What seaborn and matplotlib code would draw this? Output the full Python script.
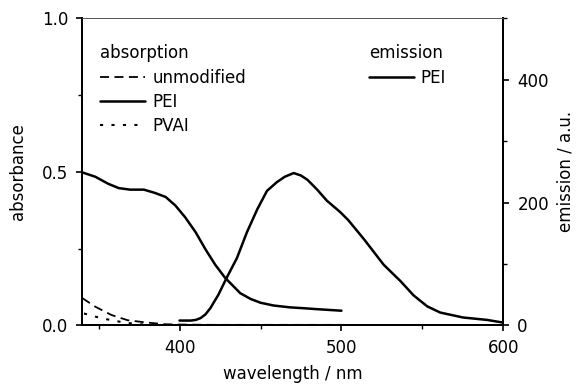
import matplotlib
matplotlib.use("Agg")
import matplotlib.pyplot as plt
from matplotlib.lines import Line2D
from matplotlib.ticker import MultipleLocator
import pandas as pd
import seaborn as sns

# absorption spectra (left axis, absorbance)
pei_abs_wl = [340, 348, 356, 362.5, 369.5, 378, 385, 391.5, 397.5, 403.5, 410, 416, 422, 428,
              437.5, 444, 450, 458, 468, 477, 485, 500]
pei_abs = [0.498, 0.484, 0.461, 0.447, 0.442, 0.442, 0.431, 0.418, 0.39, 0.352, 0.303, 0.248,
           0.198, 0.156, 0.105, 0.086, 0.074, 0.065, 0.059, 0.056, 0.053, 0.048]

unmod_wl = [340, 348, 358, 368, 379, 391, 400, 420, 450, 500]
unmod_abs = [0.089, 0.061, 0.034, 0.017, 0.010, 0.004, 0.003, 0.002, 0.002, 0.002]

pvai_wl = [341, 350, 358, 366.5, 374.5, 385, 400, 430, 500]
pvai_abs = [0.039, 0.026, 0.017, 0.009, 0.004, 0.002, 0.001, 0.001, 0.001]

# emission spectrum (right axis, a.u.)
pei_em_wl = [400, 404, 407, 410, 413, 416, 419, 424, 429, 435.5, 441.5, 448, 454, 460, 465,
             470.5, 475, 479, 485, 491, 499, 504, 514, 526, 536.5, 544.5, 553, 561,
             575, 590, 599]
pei_em = [8, 8, 8, 9, 12, 18, 28, 50, 77, 110, 151, 189, 219, 233, 242,
          248, 244, 237, 221, 203, 185, 172, 140, 99, 72, 49, 31, 21,
          13, 9, 5]

sns.set_style("ticks")
plt.rcParams["font.family"] = ["DejaVu Sans"]
plt.rcParams["font.size"] = 12
plt.rcParams["text.color"] = "black"
plt.rcParams["axes.labelcolor"] = "black"

fig = plt.figure(figsize=(5.82, 3.87), dpi=100)
ax = fig.add_axes([0.1415, 0.159, 0.7235, 0.794])
ax2 = ax.twinx()

sns.lineplot(data=pd.DataFrame({"wl": pei_abs_wl, "v": pei_abs}), x="wl", y="v",
             ax=ax, color="black", lw=1.8, linestyle="-")
sns.lineplot(data=pd.DataFrame({"wl": unmod_wl, "v": unmod_abs}), x="wl", y="v",
             ax=ax, color="black", lw=1.3, linestyle=(0, (5, 3)))
sns.lineplot(data=pd.DataFrame({"wl": pvai_wl, "v": pvai_abs}), x="wl", y="v",
             ax=ax, color="black", lw=1.5, linestyle=(0, (1.5, 4)))
sns.lineplot(data=pd.DataFrame({"wl": pei_em_wl, "v": pei_em}), x="wl", y="v",
             ax=ax2, color="black", lw=1.8, linestyle="-")

ax.set_xlim(340, 600)
ax.set_ylim(0, 1.0)
ax2.set_ylim(0, 500)

ax.xaxis.set_major_locator(MultipleLocator(100))
ax.xaxis.set_minor_locator(MultipleLocator(50))
ax.yaxis.set_major_locator(MultipleLocator(0.5))
ax.yaxis.set_minor_locator(MultipleLocator(0.25))
ax2.yaxis.set_major_locator(MultipleLocator(200))
ax2.yaxis.set_minor_locator(MultipleLocator(100))

ax.set_xlabel("wavelength / nm", fontsize=12, labelpad=5.5)
ax.set_ylabel("absorbance", fontsize=12, labelpad=11)
ax2.set_ylabel("emission / a.u.", fontsize=12, labelpad=5.5)

for a in (ax, ax2):
    a.tick_params(which="major", direction="out", length=4, width=1.2, colors="black",
                  labelsize=12, pad=6)
    a.tick_params(which="minor", direction="out", length=3, width=1.0, colors="black")
    for side in ("left", "right", "bottom"):
        a.spines[side].set_linewidth(1.4)
        a.spines[side].set_color("black")
    a.spines["top"].set_linewidth(0.6)
    a.spines["top"].set_color("#555555")
    a.spines["top"].set_visible(True)
    a.spines["right"].set_visible(True)

abs_handles = [Line2D([], [], color="black", lw=1.3, linestyle=(0, (5, 3))),
               Line2D([], [], color="black", lw=1.8),
               Line2D([], [], color="black", lw=1.5, linestyle=(0, (1.5, 4)))]
leg1 = ax2.legend(abs_handles, ["unmodified", "PEI", "PVAI"], title="absorption",
                  loc="upper left", bbox_to_anchor=(0.043, 0.915), frameon=False,
                  handlelength=2.7, handletextpad=0.4, labelspacing=0.38,
                  borderaxespad=0, borderpad=0, alignment="left", fontsize=12,
                  title_fontsize=12)
ax2.add_artist(leg1)
leg2 = ax2.legend([Line2D([], [], color="black", lw=1.8)], ["PEI"], title="emission",
                  loc="upper left", bbox_to_anchor=(0.68, 0.915), frameon=False,
                  handlelength=2.7, handletextpad=0.4, labelspacing=0.38,
                  borderaxespad=0, borderpad=0, alignment="left", fontsize=12,
                  title_fontsize=12)

fig.savefig("out.png", dpi=100)
